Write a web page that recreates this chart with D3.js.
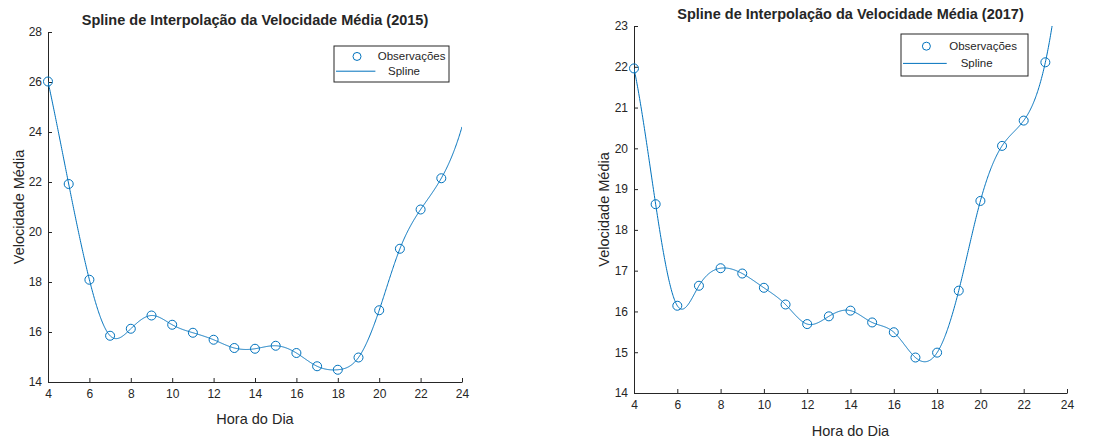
<!DOCTYPE html>
<html>
<head>
<meta charset="utf-8">
<script src="https://cdn.jsdelivr.net/npm/d3@7"></script>
<style>
  body { margin: 0; background: #fff; }
  text { font-family: "Liberation Sans", Arial, sans-serif; fill: #262626; }
</style>
</head>
<body>
<div class="canvas"></div>
<script>
// data
const hours = [4, 5, 6, 7, 8, 9, 10, 11, 12, 13, 14, 15, 16, 17, 18, 19, 20, 21, 22, 23];
const speed2015 = [26.02, 21.92, 18.09, 15.85, 16.13, 16.66, 16.29, 15.97, 15.69, 15.36, 15.33, 15.45, 15.16, 14.63, 14.49, 14.98, 16.87, 19.33, 20.90, 22.15];
const speed2017 = [21.96, 18.63, 16.14, 16.63, 17.06, 16.93, 16.58, 16.17, 15.69, 15.88, 16.02, 15.73, 15.49, 14.87, 14.99, 16.51, 18.71, 20.06, 20.68, 22.11];
const xTicks = [4, 6, 8, 10, 12, 14, 16, 18, 20, 22, 24];
const yTicks2015 = [14, 16, 18, 20, 22, 24, 26, 28];
const yTicks2017 = [14, 15, 16, 17, 18, 19, 20, 21, 22, 23];

const svg = d3.select('.canvas')
    .append('svg')
    .attr('width', 1114)
    .attr('height', 439);

const blue = '#0072BD';

// not-a-knot cubic spline (like matlab's spline())
const notAKnot = (xs, ys) => {
    const n = xs.length;
    const h = d3.range(n - 1).map(i => xs[i + 1] - xs[i]);
    const A = d3.range(n).map(() => new Array(n).fill(0));
    const b = new Array(n).fill(0);
    A[0][0] = h[1]; A[0][1] = -(h[0] + h[1]); A[0][2] = h[0];
    for (let i = 1; i < n - 1; i++) {
        A[i][i - 1] = h[i - 1];
        A[i][i] = 2 * (h[i - 1] + h[i]);
        A[i][i + 1] = h[i];
        b[i] = 6 * ((ys[i + 1] - ys[i]) / h[i] - (ys[i] - ys[i - 1]) / h[i - 1]);
    }
    A[n - 1][n - 3] = h[n - 2]; A[n - 1][n - 2] = -(h[n - 3] + h[n - 2]); A[n - 1][n - 1] = h[n - 3];
    // gaussian elimination
    for (let c = 0; c < n; c++) {
        let p = c;
        for (let r = c + 1; r < n; r++) if (Math.abs(A[r][c]) > Math.abs(A[p][c])) p = r;
        [A[c], A[p]] = [A[p], A[c]]; [b[c], b[p]] = [b[p], b[c]];
        for (let r = c + 1; r < n; r++) {
            const f = A[r][c] / A[c][c];
            for (let k = c; k < n; k++) A[r][k] -= f * A[c][k];
            b[r] -= f * b[c];
        }
    }
    const M = new Array(n).fill(0);
    for (let r = n - 1; r >= 0; r--) {
        let s = b[r];
        for (let k = r + 1; k < n; k++) s -= A[r][k] * M[k];
        M[r] = s / A[r][r];
    }
    return x => {
        let i = d3.bisectRight(xs, x) - 1;
        i = Math.max(0, Math.min(n - 2, i));
        const hi = h[i], a = xs[i + 1] - x, c = x - xs[i];
        return M[i] * a * a * a / (6 * hi) + M[i + 1] * c * c * c / (6 * hi)
            + (ys[i] / hi - M[i] * hi / 6) * a + (ys[i + 1] / hi - M[i + 1] * hi / 6) * c;
    };
};

const drawPanel = (cfg) => {
    const { left, right, top, bottom, yTicks, values, title, titleY, id } = cfg;

    const x = d3.scaleLinear().domain([4, 24]).range([left, right]);
    const y = d3.scaleLinear().domain(d3.extent(yTicks)).range([bottom, top]);

    const g = svg.append('g');

    g.append('clipPath').attr('id', id)
        .append('rect')
        .attr('x', left).attr('y', top)
        .attr('width', right - left).attr('height', bottom - top);

    // axes
    const xAxis = d3.axisBottom(x).tickValues(xTicks).tickSizeInner(-4).tickSizeOuter(0).tickPadding(7);
    const yAxis = d3.axisLeft(y).tickValues(yTicks).tickSizeInner(-4).tickSizeOuter(0).tickPadding(6);

    const xg = g.append('g').attr('transform', `translate(0, ${bottom})`).call(xAxis);
    const yg = g.append('g').attr('transform', `translate(${left}, 0)`).call(yAxis);
    [xg, yg].forEach(a => {
        a.selectAll('path, line').attr('stroke', '#262626');
        a.selectAll('text').attr('font-size', 12).attr('fill', '#404040')
            .style('font-family', '"Liberation Sans", Arial, sans-serif');
    });

    // spline
    const s = notAKnot(hours, values);
    const xs = d3.range(4, 24.0001, 0.02);
    const line = d3.line().x(d => x(d)).y(d => y(s(d)));
    g.append('path')
        .attr('clip-path', `url(#${id})`)
        .attr('d', line(xs))
        .attr('fill', 'none')
        .attr('stroke', blue)
        .attr('stroke-width', 1);

    // observations
    g.selectAll('circle.obs')
        .data(hours.map((h, i) => ({ h, v: values[i] })))
        .enter()
        .append('circle')
        .attr('class', 'obs')
        .attr('cx', d => x(d.h))
        .attr('cy', d => y(d.v))
        .attr('r', 4.5)
        .attr('fill', 'none')
        .attr('stroke', blue)
        .attr('stroke-width', 1);

    // title & labels
    g.append('text')
        .attr('x', (left + right) / 2).attr('y', titleY)
        .attr('text-anchor', 'middle')
        .attr('font-size', 14.5).attr('font-weight', 'bold')
        .attr('fill', '#000')
        .text(title);

    g.append('text')
        .attr('x', (left + right) / 2).attr('y', cfg.xLabelY)
        .attr('text-anchor', 'middle')
        .attr('font-size', 14.5)
        .attr('fill', '#404040')
        .text('Hora do Dia');

    g.append('text')
        .attr('transform', `translate(${cfg.yLabelX}, ${(top + bottom) / 2}) rotate(-90)`)
        .attr('text-anchor', 'middle')
        .attr('font-size', 14.5)
        .attr('fill', '#404040')
        .text('Velocidade Média');

    // legend
    const L = cfg.legend;
    const lg = g.append('g').attr('transform', `translate(${L.x}, ${L.y})`);
    lg.append('rect')
        .attr('width', L.w).attr('height', L.h)
        .attr('fill', '#fff').attr('stroke', '#262626').attr('stroke-width', 1);
    lg.append('circle')
        .attr('cx', L.w * 0.2).attr('cy', L.h * 0.29).attr('r', 4)
        .attr('fill', 'none').attr('stroke', blue);
    lg.append('line')
        .attr('x1', 2).attr('x2', L.w * 0.36)
        .attr('y1', L.h * 0.7).attr('y2', L.h * 0.7)
        .attr('stroke', blue);
    lg.append('text')
        .attr('x', L.w * 0.38).attr('y', L.h * 0.29 + 4)
        .attr('font-size', 11.5).text('Observações');
    lg.append('text')
        .attr('x', L.w * 0.47).attr('y', L.h * 0.7 + 4)
        .attr('font-size', 11.5).text('Spline');
};

drawPanel({
    id: 'clip2015', left: 48, right: 462, top: 32, bottom: 382,
    yTicks: yTicks2015, values: speed2015,
    title: 'Spline de Interpolação da Velocidade Média (2015)', titleY: 25,
    xLabelY: 424, yLabelX: 24,
    legend: { x: 334, y: 46, w: 115, h: 36 }
});

drawPanel({
    id: 'clip2017', left: 634, right: 1067, top: 26, bottom: 393,
    yTicks: yTicks2017, values: speed2017,
    title: 'Spline de Interpolação da Velocidade Média (2017)', titleY: 19,
    xLabelY: 436, yLabelX: 609,
    legend: { x: 901, y: 34, w: 127, h: 42 }
});
</script>
</body>
</html>
